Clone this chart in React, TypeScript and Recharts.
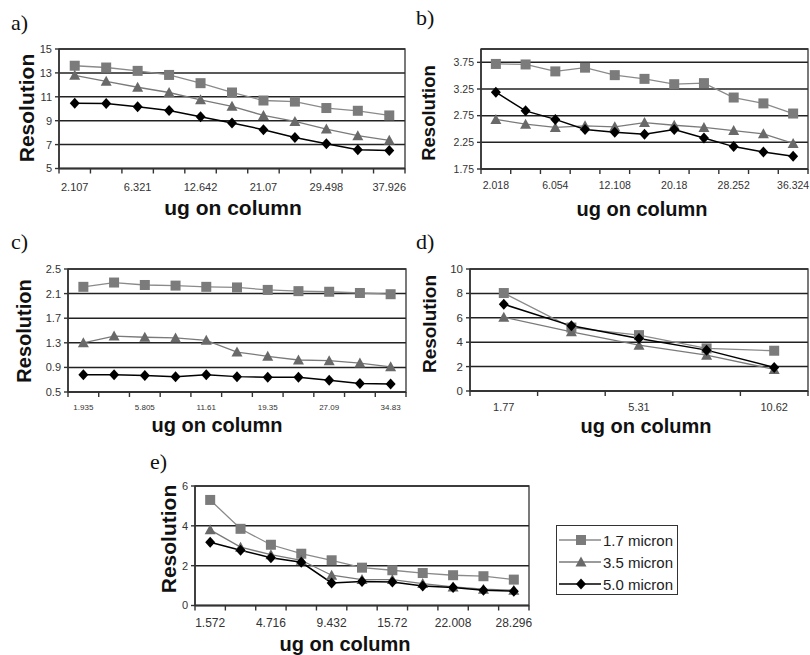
import React from 'react';
import { LineChart, Line, XAxis, YAxis, CartesianGrid, ReferenceArea, Legend } from 'recharts';

const FONT = '"Liberation Sans", Arial, sans-serif';

// panel a
const A_X = ['2.107', '4.214', '6.321', '8.428', '12.642', '16.856', '21.07', '25.284', '29.498', '33.712', '37.926'];
const A_17 = [13.6, 13.45, 13.17, 12.83, 12.14, 11.36, 10.69, 10.6, 10.06, 9.83, 9.44];
const A_35 = [12.8, 12.3, 11.8, 11.36, 10.75, 10.2, 9.44, 8.94, 8.3, 7.75, 7.36];
const A_50 = [10.47, 10.44, 10.17, 9.86, 9.33, 8.8, 8.25, 7.6, 7.08, 6.56, 6.5];
const A_YTICKS = [5, 7, 9, 11, 13, 15];

// panel b
const B_X = ['2.018', '4.036', '6.054', '8.072', '12.108', '16.144', '20.18', '24.216', '28.252', '32.288', '36.324'];
const B_17 = [3.72, 3.71, 3.58, 3.65, 3.51, 3.44, 3.34, 3.36, 3.09, 2.98, 2.79];
const B_35 = [2.68, 2.59, 2.53, 2.56, 2.54, 2.62, 2.57, 2.53, 2.47, 2.41, 2.23];
const B_50 = [3.19, 2.84, 2.68, 2.49, 2.44, 2.4, 2.49, 2.33, 2.17, 2.07, 1.99];
const B_YTICKS = [1.75, 2.25, 2.75, 3.25, 3.75];

// panel c
const C_X = ['1.935', '3.87', '5.805', '7.74', '11.61', '15.48', '19.35', '23.22', '27.09', '30.96', '34.83'];
const C_17 = [2.21, 2.28, 2.24, 2.23, 2.21, 2.2, 2.16, 2.14, 2.13, 2.11, 2.09];
const C_35 = [1.3, 1.41, 1.39, 1.38, 1.34, 1.15, 1.08, 1.02, 1.01, 0.97, 0.91];
const C_50 = [0.78, 0.78, 0.77, 0.75, 0.78, 0.75, 0.74, 0.74, 0.69, 0.64, 0.63];
const C_YTICKS = [0.5, 0.9, 1.3, 1.7, 2.1, 2.5];

// panel d
const D_X = ['1.77', '3.54', '5.31', '7.08', '10.62'];
const D_17 = [8.03, 5.2, 4.58, 3.49, 3.3];
const D_35 = [6.05, 4.85, 3.76, 2.94, 1.77];
const D_50 = [7.11, 5.34, 4.3, 3.35, 1.93];
const D_YTICKS = [0, 2, 4, 6, 8, 10];

// panel e
const E_X = ['1.572', '3.144', '4.716', '6.288', '9.432', '12.576', '15.72', '18.864', '22.008', '25.152', '28.296'];
const E_17 = [5.3, 3.85, 3.05, 2.6, 2.27, 1.9, 1.77, 1.63, 1.52, 1.47, 1.3];
const E_35 = [3.8, 2.93, 2.55, 2.27, 1.52, 1.3, 1.3, 1.1, 0.93, 0.82, 0.77];
const E_50 = [3.18, 2.77, 2.4, 2.17, 1.13, 1.2, 1.18, 0.98, 0.9, 0.77, 0.72];
const E_YTICKS = [0, 2, 4, 6];

const SERIES = ['1.7 micron', '3.5 micron', '5.0 micron'];

const SQ_FILL = '#7b7b7b';
const TRI_FILL = '#696969';
const DIA_FILL = '#000';

const Square = ({ cx, cy }: any) => <rect x={cx - 5} y={cy - 5} width={10} height={10} fill={SQ_FILL} />;
const Triangle = ({ cx, cy }: any) => (
  <polygon points={`${cx},${cy - 5.5} ${cx + 5.5},${cy + 4.5} ${cx - 5.5},${cy + 4.5}`} fill={TRI_FILL} />
);
const Diamond = ({ cx, cy }: any) => (
  <polygon points={`${cx},${cy - 5.5} ${cx + 5},${cy} ${cx},${cy + 5.5} ${cx - 5},${cy}`} fill={DIA_FILL} />
);

const YW = 44;
const MT = 6;
const XH = 34;
const MR = 3;

const LegendBox = () => {
  const rows = [
    { name: SERIES[0], stroke: '#8a8a8a', mark: <Square cx={24} cy={8} /> },
    { name: SERIES[1], stroke: '#7a7a7a', mark: <Triangle cx={24} cy={8} /> },
    { name: SERIES[2], stroke: '#000', mark: <Diamond cx={24} cy={8} /> },
  ];
  return (
    <div
      style={{
        width: 122,
        height: 70,
        boxSizing: 'border-box',
        border: '1.5px solid #333',
        background: '#fff',
        paddingTop: 3,
      }}
    >
      {rows.map((r) => (
        <div key={r.name} style={{ display: 'flex', alignItems: 'center', height: 22 }}>
          <svg width={46} height={16} style={{ display: 'block' }}>
            <line x1={2} x2={44} y1={8} y2={8} stroke={r.stroke} strokeWidth={1.4} />
            {r.mark}
          </svg>
          <span style={{ fontFamily: FONT, fontSize: 15, color: '#222', whiteSpace: 'nowrap' }}>{r.name}</span>
        </div>
      ))}
    </div>
  );
};

interface PanelProps {
  letter: string;
  letterX: number;
  letterY: number;
  left: number;
  top: number;
  right: number;
  bottom: number;
  cats: string[];
  s17: number[];
  s35: number[];
  s50: number[];
  yDomain: [number, number];
  yTicks: number[];
  xFont: number;
  yFont: number;
  xDy: number;
  yTitleX: number;
  yTitleY: number;
  yTitleSize: number;
  xTitleX: number;
  xTitleY: number;
  xTitleSize: number;
  legend?: boolean;
}

const Panel: React.FC<PanelProps> = (p) => {
  const n = p.cats.length;
  const data = p.cats.map((c, i) => ({ i, cat: c, s17: p.s17[i], s35: p.s35[i], s50: p.s50[i] }));
  const xTicks: number[] = [];
  for (let k = 0; k <= n; k++) xTicks.push(k - 0.5);
  for (let k = 0; k < n; k += 2) xTicks.push(k);
  xTicks.sort((a, b) => a - b);

  const extraRight = p.legend ? 170 : 0;
  const plotW = p.right - p.left;
  const plotH = p.bottom - p.top;
  const chartLeft = p.left - YW;
  const chartTop = p.top - MT;
  const width = YW + plotW + MR + extraRight;
  const height = MT + plotH + XH;

  const XTick = (props: any) => {
    const { x, y, payload } = props;
    const v = payload.value;
    if (Math.abs(v - Math.round(v)) > 0.01) {
      return <line x1={x} x2={x} y1={y} y2={y + 5} stroke="#333" strokeWidth={1.4} />;
    }
    return (
      <text x={x} y={y + p.xDy} textAnchor="middle" dominantBaseline="central" fontSize={p.xFont} fill="#333" fontFamily={FONT}>
        {p.cats[Math.round(v)]}
      </text>
    );
  };

  return (
    <>
      <div style={{ position: 'absolute', left: p.letterX, top: p.letterY, fontFamily: '"Liberation Serif", "Times New Roman", serif', fontSize: 22, lineHeight: '22px', color: '#111' }}>
        {p.letter}
      </div>
      <div style={{ position: 'absolute', left: chartLeft, top: chartTop, width, height }}>
        <LineChart width={width} height={height} data={data} margin={{ top: MT, right: MR + extraRight, bottom: 0, left: 0 }}>
          <CartesianGrid vertical={false} stroke="#222" strokeWidth={1.5} />
          <ReferenceArea
            x1={-0.5}
            x2={n - 0.5}
            y1={p.yDomain[0]}
            y2={p.yDomain[1]}
            fill="none"
            fillOpacity={0}
            stroke="#333"
            strokeWidth={1.3}
          />
          <XAxis
            dataKey="i"
            type="number"
            domain={[-0.5, n - 0.5]}
            ticks={xTicks}
            interval={0}
            tick={XTick}
            tickLine={false}
            tickSize={0}
            tickMargin={0}
            height={XH}
            axisLine={{ stroke: '#333', strokeWidth: 1.6 }}
          />
          <YAxis
            type="number"
            domain={p.yDomain}
            ticks={p.yTicks}
            interval={0}
            width={YW}
            tickSize={4}
            tickMargin={3}
            tickLine={{ stroke: '#333', strokeWidth: 1.4 }}
            axisLine={{ stroke: '#333', strokeWidth: 1.6 }}
            tick={{ fontSize: p.yFont, fill: '#333', fontFamily: FONT }}
            allowDataOverflow
          />
          <Line
            dataKey="s17"
            name={SERIES[0]}
            stroke="#8a8a8a"
            strokeWidth={1.3}
            isAnimationActive={false}
            dot={(d: any) => <Square key={`sq${d.index}`} cx={d.cx} cy={d.cy} />}
            activeDot={false}
          />
          <Line
            dataKey="s35"
            name={SERIES[1]}
            stroke="#7a7a7a"
            strokeWidth={1.3}
            isAnimationActive={false}
            dot={(d: any) => <Triangle key={`tr${d.index}`} cx={d.cx} cy={d.cy} />}
            activeDot={false}
          />
          <Line
            dataKey="s50"
            name={SERIES[2]}
            stroke="#000"
            strokeWidth={1.5}
            isAnimationActive={false}
            dot={(d: any) => <Diamond key={`di${d.index}`} cx={d.cx} cy={d.cy} />}
            activeDot={false}
          />
          {p.legend && (
            <Legend
              layout="vertical"
              align="center"
              verticalAlign="middle"
              content={() => <LegendBox />}
              wrapperStyle={{ left: 556 - chartLeft, top: 525 - chartTop, width: 122, height: 70 }}
            />
          )}
        </LineChart>
      </div>
      <div
        style={{
          position: 'absolute',
          left: p.yTitleX,
          top: p.yTitleY,
          transform: 'translate(-50%, -50%) rotate(-90deg)',
          fontFamily: FONT,
          fontWeight: 'bold',
          fontSize: p.yTitleSize,
          color: '#111',
          whiteSpace: 'nowrap',
          lineHeight: 1,
        }}
      >
        Resolution
      </div>
      <div
        style={{
          position: 'absolute',
          left: p.xTitleX,
          top: p.xTitleY,
          transform: 'translate(-50%, -50%)',
          fontFamily: FONT,
          fontWeight: 'bold',
          fontSize: p.xTitleSize,
          color: '#111',
          whiteSpace: 'nowrap',
          lineHeight: 1,
        }}
      >
        ug on column
      </div>
    </>
  );
};

const App: React.FC = () => {
  return (
    <div style={{ position: 'absolute', left: 0, top: 0, width: 810, height: 655, background: '#fff', overflow: 'hidden' }}>
      <Panel
        letter="a)" letterX={11} letterY={12}
        left={59} top={49} right={405} bottom={168.5}
        cats={A_X} s17={A_17} s35={A_35} s50={A_50}
        yDomain={[5, 15]} yTicks={A_YTICKS}
        xFont={11} yFont={11} xDy={18}
        yTitleX={26} yTitleY={108} yTitleSize={21}
        xTitleX={233} xTitleY={207} xTitleSize={21}
      />
      <Panel
        letter="b)" letterX={416} letterY={7}
        left={481} top={49} right={808} bottom={169}
        cats={B_X} s17={B_17} s35={B_35} s50={B_50}
        yDomain={[1.75, 4]} yTicks={B_YTICKS}
        xFont={10.5} yFont={10.5} xDy={16}
        yTitleX={429} yTitleY={113} yTitleSize={18.5}
        xTitleX={642} xTitleY={209} xTitleSize={20}
      />
      <Panel
        letter="c)" letterX={11} letterY={231}
        left={68} top={269} right={406} bottom={392}
        cats={C_X} s17={C_17} s35={C_35} s50={C_50}
        yDomain={[0.5, 2.5]} yTicks={C_YTICKS}
        xFont={8} yFont={11} xDy={15}
        yTitleX={24} yTitleY={331} yTitleSize={20}
        xTitleX={217} xTitleY={425} xTitleSize={20}
      />
      <Panel
        letter="d)" letterX={416} letterY={231}
        left={470} top={269} right={808} bottom={391}
        cats={D_X} s17={D_17} s35={D_35} s50={D_50}
        yDomain={[0, 10]} yTicks={D_YTICKS}
        xFont={11} yFont={11.5} xDy={16}
        yTitleX={429} yTitleY={324} yTitleSize={19}
        xTitleX={646} xTitleY={426} xTitleSize={20}
      />
      <Panel
        letter="e)" letterX={150} letterY={451}
        left={195} top={486} right={529} bottom={605.5}
        cats={E_X} s17={E_17} s35={E_35} s50={E_50}
        yDomain={[0, 6]} yTicks={E_YTICKS}
        xFont={12} yFont={11} xDy={17}
        yTitleX={168} yTitleY={539} yTitleSize={21}
        xTitleX={345} xTitleY={644} xTitleSize={20}
        legend
      />
    </div>
  );
};

export default App;
